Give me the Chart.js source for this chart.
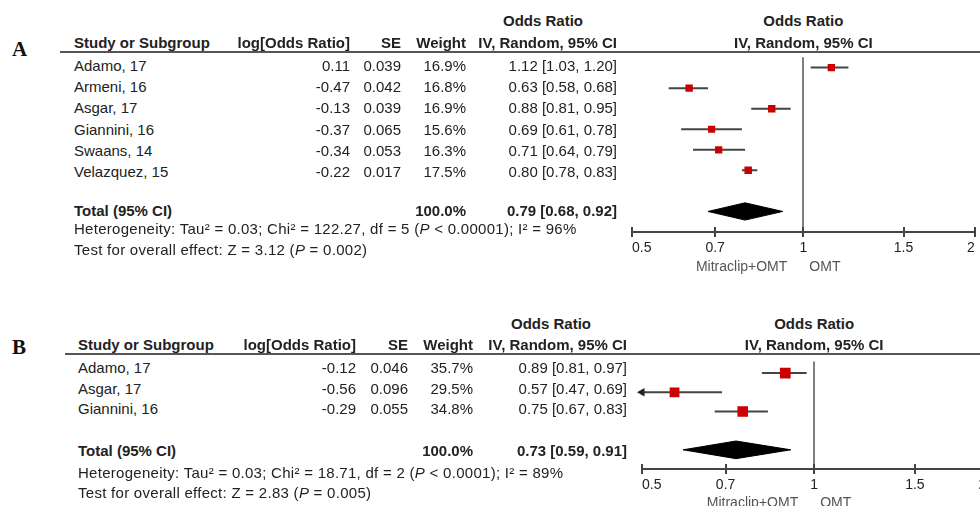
<!DOCTYPE html>
<html>
<head>
<meta charset="utf-8">
<script src="https://cdn.jsdelivr.net/npm/chart.js@4.4.1/dist/chart.umd.min.js"></script>
<style>
html, body { margin: 0; padding: 0; background: #fff; }
body { width: 980px; height: 506px; overflow: hidden; position: relative;
       font-family: "Liberation Sans", Arial, sans-serif; color: #222; }
.t { position: absolute; white-space: nowrap; font-size: 15px; line-height: 18px; }
.b { font-weight: bold; }
.note { letter-spacing: 0.28px; }
.fav { font-size: 14px; color: #555; }
.letter { font-family: "Liberation Serif", "Times New Roman", serif; font-weight: bold; font-size: 21px; line-height: 24px; color: #111; }
.rule { position: absolute; height: 2px; background: #555; }
canvas { position: absolute; }
</style>
</head>
<body>
<canvas id="plotA" width="368" height="220" style="left:612px;top:52px"></canvas>
<canvas id="plotB" width="372" height="155" style="left:622px;top:354px"></canvas>
<script>
// Panel A
var studiesA = ['Adamo, 17', 'Armeni, 16', 'Asgar, 17', 'Giannini, 16', 'Swaans, 14', 'Velazquez, 15'];
var logOrA = [0.11, -0.47, -0.13, -0.37, -0.34, -0.22];
var seA = [0.039, 0.042, 0.039, 0.065, 0.053, 0.017];
var weightA = [16.9, 16.8, 16.9, 15.6, 16.3, 17.5];
var orA = [1.12, 0.63, 0.88, 0.69, 0.71, 0.80];
var loA = [1.03, 0.58, 0.81, 0.61, 0.64, 0.78];
var hiA = [1.20, 0.68, 0.95, 0.78, 0.79, 0.83];
var totalA = [0.79, 0.68, 0.92];
var hetA = 'Heterogeneity: Tau² = 0.03; Chi² = 122.27, df = 5 (<i>P</i> &lt; 0.00001); I² = 96%';
var effectA = 'Test for overall effect: Z = 3.12 (<i>P</i> = 0.002)';

// Panel B
var studiesB = ['Adamo, 17', 'Asgar, 17', 'Giannini, 16'];
var logOrB = [-0.12, -0.56, -0.29];
var seB = [0.046, 0.096, 0.055];
var weightB = [35.7, 29.5, 34.8];
var orB = [0.89, 0.57, 0.75];
var loB = [0.81, 0.47, 0.67];
var hiB = [0.97, 0.69, 0.83];
var totalB = [0.73, 0.59, 0.91];
var hetB = 'Heterogeneity: Tau² = 0.03; Chi² = 18.71, df = 2 (<i>P</i> &lt; 0.0001); I² = 89%';
var effectB = 'Test for overall effect: Z = 2.83 (<i>P</i> = 0.005)';

// shared axis
var tickVals = [0.5, 0.7, 1, 1.5, 2];
var tickLabels = ['0.5', '0.7', '1', '1.5', '2'];
var favourLabels = ['Mitraclip+OMT', 'OMT'];

Chart.defaults.font.family = '"Liberation Sans", Arial, sans-serif';

function txt(html, x, y, align, cls) {
    var d = document.createElement('div');
    d.className = 't ' + (cls || '');
    d.innerHTML = html;
    d.style.top = (y - 9) + 'px';
    if (align === 'right') {
        d.style.left = (x - 600) + 'px'; d.style.width = '600px'; d.style.textAlign = 'right';
    } else if (align === 'center') {
        d.style.left = (x - 300) + 'px'; d.style.width = '600px'; d.style.textAlign = 'center';
    } else {
        d.style.left = x + 'px';
    }
    document.body.appendChild(d);
}

function rule(x1, x2, y) {
    var d = document.createElement('div');
    d.className = 'rule';
    d.style.left = x1 + 'px'; d.style.width = (x2 - x1) + 'px'; d.style.top = (y - 1) + 'px';
    document.body.appendChild(d);
}

// vertical line at OR = 1 and the upper half of the axis ticks
var refLine = {
    id: 'refLine',
    beforeDatasetsDraw: function (chart) {
        var ctx = chart.ctx, a = chart.chartArea;
        var x = Math.round(chart.scales.x.getPixelForValue(1));
        ctx.save();
        ctx.strokeStyle = '#555';
        ctx.lineWidth = 1.5;
        ctx.beginPath();
        ctx.moveTo(x, a.top);
        ctx.lineTo(x, a.bottom);
        ctx.stroke();
        ctx.restore();
    },
    afterDraw: function (chart) {
        var ctx = chart.ctx, a = chart.chartArea, s = chart.scales.x;
        ctx.save();
        ctx.strokeStyle = '#444';
        ctx.lineWidth = 2;
        tickVals.forEach(function (v) {
            var x = Math.round(s.getPixelForValue(v));
            ctx.beginPath();
            ctx.moveTo(x, a.bottom - 5);
            ctx.lineTo(x, a.bottom);
            ctx.stroke();
        });
        ctx.restore();
    }
};

function forest(id, p) {
    var n = p.or.length;
    var t = n + 1;
    var datasets = [];

    // weighted squares
    datasets.push({
        data: p.or.map(function (v, i) { return { x: v, y: i }; }),
        pointStyle: 'rect',
        pointRadius: p.weight.map(function (w) { return 1.8 * Math.sqrt(w) / (2 * Math.SQRT1_2); }),
        backgroundColor: '#cc0000',
        borderWidth: 0,
        order: 0
    });

    // confidence intervals
    for (var i = 0; i < n; i++) {
        datasets.push({
            data: [{ x: p.lo[i], y: i }, { x: p.hi[i], y: i }],
            showLine: true,
            borderColor: '#444',
            borderWidth: 2,
            pointRadius: 0,
            order: 2
        });
        if (p.lo[i] < tickVals[0]) {
            datasets.push({
                data: [{ x: tickVals[0], y: i }],
                pointStyle: 'triangle',
                rotation: -90,
                pointRadius: 5,
                backgroundColor: '#222',
                borderWidth: 0,
                clip: false,
                order: 1
            });
        }
    }

    // pooled diamond
    var h = p.diamondH;
    datasets.push({
        data: [
            { x: p.total[1], y: t }, { x: p.total[0], y: t - h },
            { x: p.total[2], y: t }, { x: p.total[0], y: t + h },
            { x: p.total[1], y: t }
        ],
        showLine: true,
        fill: 'shape',
        backgroundColor: '#000',
        borderColor: '#000',
        borderWidth: 1,
        pointRadius: 0,
        order: 1
    });

    return new Chart(document.getElementById(id), {
        type: 'scatter',
        data: { datasets: datasets },
        options: {
            responsive: false,
            animation: false,
            devicePixelRatio: 1,
            events: [],
            layout: { padding: { left: 20, right: 4, top: 0, bottom: 0 } },
            plugins: { legend: { display: false }, tooltip: { enabled: false } },
            scales: {
                x: {
                    type: 'logarithmic',
                    min: tickVals[0],
                    max: tickVals[tickVals.length - 1],
                    afterBuildTicks: function (s) {
                        s.ticks = tickVals.map(function (v) { return { value: v }; });
                    },
                    afterFit: function (s) { s.height = 40; },
                    grid: { display: true, drawOnChartArea: false, drawTicks: true, tickLength: 5, color: '#444', lineWidth: 2 },
                    border: { display: true, color: '#444', width: 2 },
                    ticks: {
                        callback: function (v, idx) { return tickLabels[idx]; },
                        align: 'inner',
                        autoSkip: false,
                        maxRotation: 0,
                        padding: 3,
                        color: '#222',
                        font: { size: 14 }
                    }
                },
                y: { display: false, reverse: true, min: p.yMin, max: p.yMax }
            }
        },
        plugins: [refLine]
    });
}

function panel(p) {
    var c = p.col;
    txt(p.letter, 12, p.letterY, 'left', 'letter');
    txt('Odds Ratio', p.orHeadX, p.topY, 'center', 'b');
    txt('Study or Subgroup', c.study, p.headY, 'left', 'b');
    txt('log[Odds Ratio]', c.log, p.headY, 'right', 'b');
    txt('SE', c.se, p.headY, 'right', 'b');
    txt('Weight', c.wt, p.headY, 'right', 'b');
    txt('IV, Random, 95% CI', c.ci, p.headY, 'right', 'b');
    rule(p.ruleX, 980, p.ruleY);

    var sum = 0;
    p.studies.forEach(function (s, i) {
        var y = p.rowY + i * p.step;
        txt(s, c.study, y, 'left');
        txt(p.logOr[i].toFixed(2), c.log, y, 'right');
        txt(p.se[i].toFixed(3), c.se, y, 'right');
        txt(p.weight[i].toFixed(1) + '%', c.wt, y, 'right');
        txt(p.or[i].toFixed(2) + ' [' + p.lo[i].toFixed(2) + ', ' + p.hi[i].toFixed(2) + ']', c.ci, y, 'right');
        sum += p.weight[i];
    });
    txt('Total (95% CI)', c.study, p.totalY, 'left', 'b');
    txt(sum.toFixed(1) + '%', c.wt, p.totalY, 'right', 'b');
    txt(p.total[0].toFixed(2) + ' [' + p.total[1].toFixed(2) + ', ' + p.total[2].toFixed(2) + ']', c.ci, p.totalY, 'right', 'b');
    txt(p.het, c.study, p.hetY, 'left', 'note');
    txt(p.effect, c.study, p.testY, 'left', 'note');

    var chart = forest(p.canvas, p);
    var mid = p.canvasLeft + chart.scales.x.getPixelForValue(1);
    txt('Odds Ratio', mid, p.topY, 'center', 'b');
    txt('IV, Random, 95% CI', mid, p.headY, 'center', 'b');
    txt(favourLabels[0], mid - 16, p.favY, 'right', 'fav');
    txt(favourLabels[1], mid + 6, p.favY, 'left', 'fav');
}

panel({
    letter: 'A', canvas: 'plotA', canvasLeft: 612,
    studies: studiesA, logOr: logOrA, se: seA, weight: weightA,
    or: orA, lo: loA, hi: hiA, total: totalA, het: hetA, effect: effectA,
    col: { study: 74, log: 350, se: 401, wt: 466, ci: 617 },
    orHeadX: 543, topY: 21, headY: 43, letterY: 46, ruleX: 60, ruleY: 52,
    rowY: 66, step: 21.2, totalY: 211, hetY: 229, testY: 250, favY: 266,
    yMin: -0.5, yMax: 8, diamondH: 0.42
});

panel({
    letter: 'B', canvas: 'plotB', canvasLeft: 622,
    studies: studiesB, logOr: logOrB, se: seB, weight: weightB,
    or: orB, lo: loB, hi: hiB, total: totalB, het: hetB, effect: effectB,
    col: { study: 78, log: 356, se: 408, wt: 473, ci: 627 },
    orHeadX: 551, topY: 324, headY: 345, letterY: 344, ruleX: 65, ruleY: 354,
    rowY: 368, step: 20.7, totalY: 451, hetY: 473, testY: 493, favY: 502,
    yMin: -0.6, yMax: 5, diamondH: 0.46
});
</script>
</body>
</html>
